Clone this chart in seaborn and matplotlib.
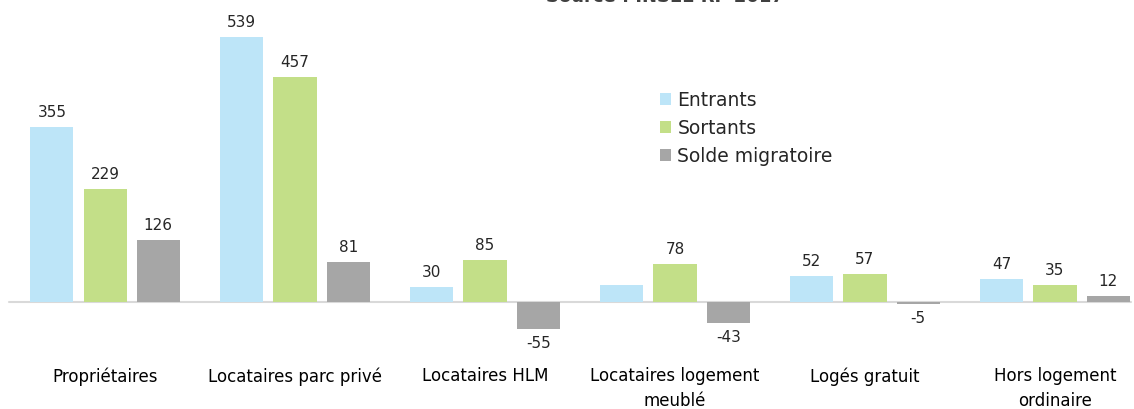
"""plot.py - entrants / sortants / solde migratoire par statut d'occupation"""
import matplotlib
matplotlib.use("Agg")
import matplotlib.pyplot as plt
import seaborn as sns
import pandas as pd

categories = ["Propriétaires", "Locataires parc privé", "Locataires HLM",
              "Locataires logement\nmeublé", "Logés gratuit", "Hors logement\nordinaire"]
series = ["Entrants", "Sortants", "Solde migratoire"]
entrants = [355, 539, 30, 35, 52, 47]
sortants = [229, 457, 85, 78, 57, 35]
solde = [126, 81, -55, -43, -5, 12]
# pas d'etiquette affichee sur la barre "Entrants" des meublés dans l'original
entrants_labels = ["355", "539", "30", "", "52", "47"]

colors = ["#BDE5F8", "#C3DF88", "#A6A6A6"]

df = pd.DataFrame({
    "cat": categories * 3,
    "serie": sum([[s] * len(categories) for s in series], []),
    "val": entrants + sortants + solde,
})

sns.set_style("white")
plt.rcParams["font.family"] = ["DejaVu Sans"]

fig = plt.figure(figsize=(11.34, 4.09), dpi=100)
ax = fig.add_axes([0, 0, 1, 1])
sns.barplot(data=df, x="cat", y="val", hue="serie", hue_order=series,
            palette=colors, width=0.84, gap=0.19, saturation=1, linewidth=0,
            ax=ax, legend=True)

ax.axhline(0, xmin=0.008, xmax=0.997, color="#D9D9D9", lw=1.5, zorder=0)
ax.set_xlim(-0.553, 5.416)
ax.set_ylim(-217.6, 614)
ax.axis("off")

lab_lists = [entrants_labels, [str(v) for v in sortants], [str(v) for v in solde]]
for cont, labs in zip(ax.containers, lab_lists):
    ax.bar_label(cont, labels=labs, padding=5, fontsize=11, color="#262626")

for i, c in enumerate(categories):
    ax.text(i, -133, c, ha="center", va="top", fontsize=12, color="#000000",
            linespacing=1.5)

ax.legend(loc="upper left", bbox_to_anchor=(652 / 1134, 1 - 83 / 409),
          frameon=False, fontsize=13.5, handlelength=0.6, handleheight=0.6,
          handletextpad=0.35, labelspacing=0.48, borderaxespad=0)

# titre coupé en haut de l'image
fig.text(0.586, 1 - 1.5 / 409, "Source : INSEE RP 2017", ha="center", va="baseline",
         fontsize=13, fontweight="bold", color="#404040")

fig.savefig("out.png", dpi=100)
